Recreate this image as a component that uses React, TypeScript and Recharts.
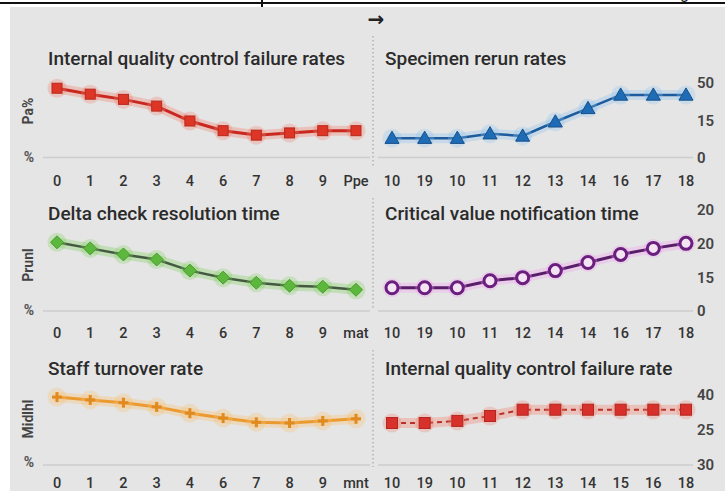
import React from "react";
import { LineChart, Line, XAxis, YAxis } from "recharts";

// ---- categories ----
const leftCatsRow1 = ["0", "1", "2", "3", "4", "6", "7", "8", "9", "Ppe"];
const leftCatsRow2 = ["0", "1", "2", "3", "4", "6", "7", "8", "9", "mat"];
const leftCatsRow3 = ["0", "1", "2", "3", "4", "6", "7", "8", "9", "mnt"];
const rightCatsRow1 = ["10", "19", "10", "11", "12", "13", "14", "16", "17", "18"];
const rightCatsRow2 = ["10", "19", "10", "11", "12", "14", "14", "16", "17", "18"];
const rightCatsRow3 = ["10", "19", "10", "11", "12", "13", "14", "15", "16", "18"];

// ---- series values (percent of panel height) ----
const qcFailureRates = [93, 85, 78, 69, 49, 36, 30, 33, 36, 36];
const specimenRerunRates = [26, 26, 26, 32, 29, 48, 66, 84, 84, 84];
const deltaCheckTime = [68, 62, 56, 51, 40, 33, 28, 25, 24, 21];
const criticalNotificationTime = [23, 23, 23, 30, 33, 40, 48, 56, 62, 67];
const staffTurnoverRate = [97, 93, 89, 83, 74, 67, 61, 60, 63, 66];
const qcFailureRate = [60, 60, 63, 70, 79, 79, 79, 79, 79, 79];

// ---- right axis tick labels ----
const row1TickLabels = ["0", "15", "50"];
const row2TickLabels = ["0", "15", "20", "20"];
const row3TickLabels = ["30", "25", "40"];

// ---- titles ----
const titles = [
  { text: "Internal quality control failure rates", x: 48, y: 58 },
  { text: "Specimen rerun rates", x: 385, y: 58 },
  { text: "Delta check resolution time", x: 48, y: 213 },
  { text: "Critical value notification time", x: 385, y: 213 },
  { text: "Staff turnover rate", x: 48, y: 368 },
  { text: "Internal quality control failure rate", x: 385, y: 368 },
];
const yTitles = [
  { text: "Pa%", y: 111 },
  { text: "Prunl", y: 265 },
  { text: "Midlhl", y: 419 },
];
const percentMarks = [157, 310, 462];

const FONT = "Roboto, 'Noto Sans', sans-serif";

type Marker = "square" | "triangle" | "diamond" | "circle" | "plus";

function makeDot(marker: Marker, fill: string, stroke: string, size: number) {
  return (props: any) => {
    const { cx, cy, index } = props;
    if (cx == null || cy == null) return <g key={`n${index}`} />;
    if (marker === "square") {
      const s = size;
      return <rect key={`d${index}`} x={cx - s / 2} y={cy - s / 2} width={s} height={s} fill={fill} stroke={stroke} strokeWidth={1} />;
    }
    if (marker === "triangle") {
      const s = 7;
      return <polygon key={`d${index}`} points={`${cx},${cy - s} ${cx + s},${cy + s * 0.75} ${cx - s},${cy + s * 0.75}`} fill={fill} stroke={stroke} strokeWidth={1} />;
    }
    if (marker === "diamond") {
      const s = 6.5;
      return <polygon key={`d${index}`} points={`${cx},${cy - s} ${cx + s},${cy} ${cx},${cy + s} ${cx - s},${cy}`} fill={fill} stroke={stroke} strokeWidth={1} />;
    }
    if (marker === "circle") {
      return <circle key={`d${index}`} cx={cx} cy={cy} r={6} fill={fill} stroke={stroke} strokeWidth={3} />;
    }
    return (
      <g key={`d${index}`}>
        <line x1={cx - 5} y1={cy} x2={cx + 5} y2={cy} stroke={stroke} strokeWidth={3} />
        <line x1={cx} y1={cy - 5} x2={cx} y2={cy + 5} stroke={stroke} strokeWidth={3} />
      </g>
    );
  };
}

function haloDot(color: string, r: number) {
  return (props: any) => {
    const { cx, cy, index } = props;
    if (cx == null || cy == null) return <g key={`h${index}`} />;
    return <circle key={`h${index}`} cx={cx} cy={cy} r={r} fill={color} fillOpacity={0.3} />;
  };
}

type PanelProps = {
  side: "left" | "right";
  plotTop: number;
  plotBottom: number;
  labelGap: number;
  cats: string[];
  values: number[];
  tickLabels?: string[];
  lineColor: string;
  lineWidth: number;
  haloColor: string;
  dash?: string;
  marker: Marker;
  markerSize?: number;
  markerFill: string;
  markerStroke: string;
};

function Panel(p: PanelProps) {
  const isLeft = p.side === "left";
  const T = p.plotTop - 12;
  const xAxisH = 38;
  const H = p.plotBottom - T + xAxisH;
  const left = isLeft ? 0 : 373;
  const width = isLeft ? 373 : 352;
  const data = p.cats.map((c, i) => ({ key: `k${i}`, label: c, v: p.values[i] }));
  const labels = p.tickLabels || [];
  const ticks = labels.map((_, i) => (i * 100) / Math.max(1, labels.length - 1));
  return (
    <div style={{ position: "absolute", left, top: T, width, height: H }}>
      <LineChart
        width={width}
        height={H}
        data={data}
        style={{ overflow: "visible" }}
        margin={{ top: 12, bottom: 0, left: isLeft ? 43 : 5, right: isLeft ? 3 : 0 }}
      >
        <XAxis
          dataKey="key"
          interval={0}
          padding={isLeft ? { left: 14, right: 14 } : { left: 14, right: 7 }}
          height={xAxisH}
          axisLine={{ stroke: "#cdcdcd", strokeWidth: 1.5 }}
          tickLine={false}
          tickMargin={p.labelGap}
          tickFormatter={(_v: any, i: number) => p.cats[i]}
          tick={{ fontSize: 14.5, fill: "#333", fontWeight: 500, fontFamily: FONT }}
        />
        {isLeft ? (
          <YAxis type="number" domain={[0, 100]} hide width={0} />
        ) : (
          <YAxis
            type="number"
            orientation="right"
            domain={[0, 100]}
            ticks={ticks}
            interval={0}
            width={32}
            axisLine={false}
            tickLine={false}
            tickSize={2}
            tickMargin={2}
            tickFormatter={(_v: any, i: number) => labels[i]}
            tick={{ fontSize: 15, fill: "#444", fontWeight: 600, fontFamily: FONT, textAnchor: "start" }}
          />
        )}
        <Line
          type="linear"
          dataKey="v"
          stroke={p.haloColor}
          strokeOpacity={0.35}
          strokeWidth={10}
          strokeLinecap="round"
          dot={haloDot(p.haloColor, 9.5)}
          activeDot={false}
          isAnimationActive={false}
        />
        <Line
          type="linear"
          dataKey="v"
          stroke={p.lineColor}
          strokeWidth={p.lineWidth}
          strokeDasharray={p.dash}
          dot={makeDot(p.marker, p.markerFill, p.markerStroke, p.markerSize || 10)}
          activeDot={false}
          isAnimationActive={false}
        />
      </LineChart>
    </div>
  );
}

export default function App() {
  return (
    <div style={{ position: "absolute", left: 0, top: 0, width: 725, height: 491, overflow: "hidden", background: "#fff", fontFamily: FONT }}>
      <div style={{ position: "absolute", left: 10, top: 7, width: 715, height: 484, background: "#e5e5e5" }} />

      <Panel side="left" plotTop={83} plotBottom={157.5} labelGap={12} cats={leftCatsRow1} values={qcFailureRates}
        lineColor="#c9281f" lineWidth={3} haloColor="#f08070" marker="square" markerFill="#dd3526" markerStroke="#b82a1e" />
      <Panel side="right" plotTop={83} plotBottom={157.5} labelGap={12} cats={rightCatsRow1} values={specimenRerunRates} tickLabels={row1TickLabels}
        lineColor="#1d5b9c" lineWidth={2.5} haloColor="#8ec4f0" marker="triangle" markerFill="#1f6cb6" markerStroke="#174f88" />
      <Panel side="left" plotTop={210} plotBottom={311} labelGap={10.5} cats={leftCatsRow2} values={deltaCheckTime}
        lineColor="#445a40" lineWidth={2.5} haloColor="#80d060" marker="diamond" markerFill="#5cb83c" markerStroke="#4a9a30" />
      <Panel side="right" plotTop={210} plotBottom={311} labelGap={10.5} cats={rightCatsRow2} values={criticalNotificationTime} tickLabels={row2TickLabels}
        lineColor="#5a1d6a" lineWidth={3} haloColor="#f0a0f0" marker="circle" markerFill="#f3e3f3" markerStroke="#6a1e7e" />
      <Panel side="left" plotTop={395} plotBottom={465} labelGap={7} cats={leftCatsRow3} values={staffTurnoverRate}
        lineColor="#eb9a30" lineWidth={3} haloColor="#f8c070" marker="plus" markerFill="#eb9a30" markerStroke="#e08a20" />
      <Panel side="right" plotTop={395} plotBottom={465} labelGap={7} cats={rightCatsRow3} values={qcFailureRate} tickLabels={row3TickLabels}
        lineColor="#b83028" lineWidth={2} dash="5 4" haloColor="#f08070" marker="square" markerSize={11} markerFill="#d8302a" markerStroke="#b02820" />

      <svg width={725} height={491} style={{ position: "absolute", left: 0, top: 0, pointerEvents: "none" }}>
        <rect x={0} y={2} width={725} height={2} fill="#111" />
        <rect x={261} y={0} width={2} height={7} fill="#111" />
        <text x={680} y={-1} fontSize={16} fill="#111" fontFamily={FONT}>g</text>
        <text x={376} y={19} fontSize={20} fontWeight={700} fill="#222" textAnchor="middle" dominantBaseline="central" fontFamily="'DejaVu Sans', sans-serif">→</text>

        <line x1={373} y1={36} x2={373} y2={166} stroke="#9a9a9a" strokeWidth={1} strokeDasharray="1.5 2.5" />
        <line x1={373} y1={198} x2={373} y2={310} stroke="#9a9a9a" strokeWidth={1} strokeDasharray="1.5 2.5" />
        <line x1={373} y1={350} x2={373} y2={467} stroke="#9a9a9a" strokeWidth={1} strokeDasharray="1.5 2.5" />

        {titles.map((t, i) => (
          <text key={`t${i}`} x={t.x} y={t.y} fontSize={19} fontWeight={500} fill="#2b2b2b" dominantBaseline="central" fontFamily={FONT}>
            {t.text}
          </text>
        ))}
        {yTitles.map((t, i) => (
          <text key={`y${i}`} x={28} y={t.y} fontSize={14} fontWeight={700} fill="#444" textAnchor="middle" dominantBaseline="central"
            transform={`rotate(-90 28 ${t.y})`} fontFamily={FONT}>
            {t.text}
          </text>
        ))}
        {percentMarks.map((y, i) => (
          <text key={`p${i}`} x={29} y={y} fontSize={14} fontWeight={700} fill="#555" textAnchor="middle" dominantBaseline="central" fontFamily={FONT}>
            %
          </text>
        ))}
      </svg>
    </div>
  );
}
